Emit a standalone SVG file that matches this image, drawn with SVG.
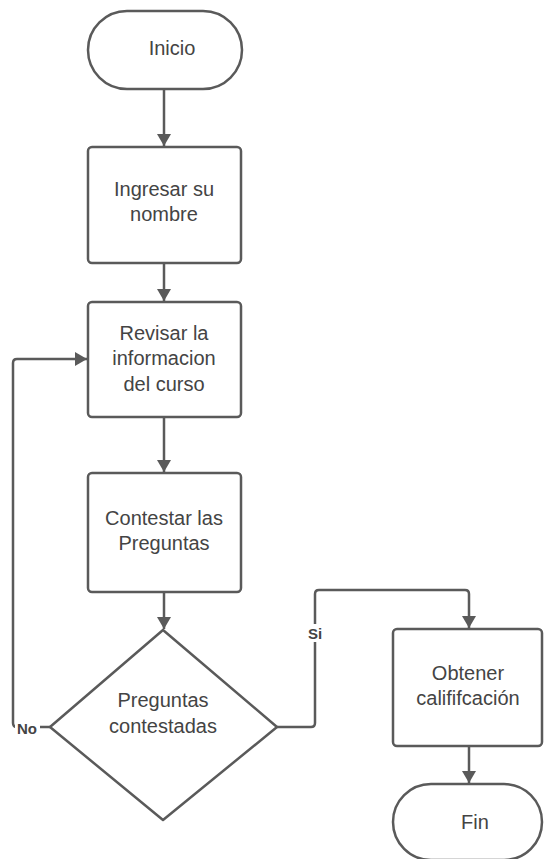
<svg xmlns="http://www.w3.org/2000/svg" width="544" height="859" viewBox="0 0 544 859">
<style>
.shape{fill:#fff;stroke:#5a5a5a;stroke-width:2.5}
.conn{fill:none;stroke:#5a5a5a;stroke-width:2.5}
text{font-family:"Liberation Sans",Arial,sans-serif;font-size:20px;fill:#444;text-anchor:middle;dominant-baseline:central}
.lbl{font-size:15px;font-weight:bold;fill:#444}
</style>
<defs>
<marker id="ah" viewBox="0 0 10 10" refX="10" refY="5" markerWidth="5" markerHeight="5" orient="auto" markerUnits="userSpaceOnUse">
<path d="M0,0 L10,5 L0,10 z" fill="#5a5a5a"/>
</marker>
<marker id="a" viewBox="0 0 12 16" refX="12" refY="8" markerWidth="12" markerHeight="16" orient="auto" markerUnits="userSpaceOnUse">
<path d="M0,1 L12,8 L0,15 z" fill="#5a5a5a"/>
</marker>
</defs>
<rect width="544" height="859" fill="#fff"/>
<g id="connectors">
<path class="conn" d="M164,89 V146" marker-end="url(#a)"/>
<path class="conn" d="M164,263 V301" marker-end="url(#a)"/>
<path class="conn" d="M164,417 V472" marker-end="url(#a)"/>
<path class="conn" d="M164,592 V629" marker-end="url(#a)"/>
<path class="conn" d="M50,727 H17 Q13,727 13,723 V363 Q13,359 17,359 H87" marker-end="url(#a)"/>
<path class="conn" d="M277,727 H311 Q315,727 315,723 V594 Q315,590 319,590 H465 Q469,590 469,594 V628" marker-end="url(#a)"/>
<path class="conn" d="M469,746 V783" marker-end="url(#a)"/>
<rect x="304" y="624" width="22" height="18" fill="#fff"/>
<text class="lbl" x="315" y="633">Si</text>
<rect x="15" y="719" width="25" height="17" fill="#fff"/>
<text class="lbl" x="27" y="728">No</text>
</g>
<g id="inicio">
<rect class="shape" x="88" y="11" width="154" height="78" rx="39"/>
<text x="172" y="48">Inicio</text>
</g>
<g id="ingresar">
<rect class="shape" x="88" y="147" width="153" height="116" rx="4"/>
<text x="164" y="189">Ingresar su</text>
<text x="164" y="214">nombre</text>
</g>
<g id="revisar">
<rect class="shape" x="88" y="302" width="153" height="115" rx="4"/>
<text x="164" y="333">Revisar la</text>
<text x="164" y="358">informacion</text>
<text x="164" y="384">del curso</text>
</g>
<g id="contestar">
<rect class="shape" x="88" y="473" width="153" height="119" rx="4"/>
<text x="164" y="518">Contestar las</text>
<text x="164" y="543">Preguntas</text>
</g>
<g id="decision">
<path class="shape" d="M163,630 L277,727 L163,820 L50,727 Z" stroke-linejoin="round"/>
<text x="163" y="700">Preguntas</text>
<text x="163" y="726">contestadas</text>
</g>
<g id="obtener">
<rect class="shape" x="393" y="629" width="149" height="117" rx="4"/>
<text x="468" y="673">Obtener</text>
<text x="468" y="698">calififcación</text>
</g>
<g id="fin">
<rect class="shape" x="393" y="784" width="149" height="76" rx="38"/>
<text x="475" y="822">Fin</text>
</g>
</svg>
